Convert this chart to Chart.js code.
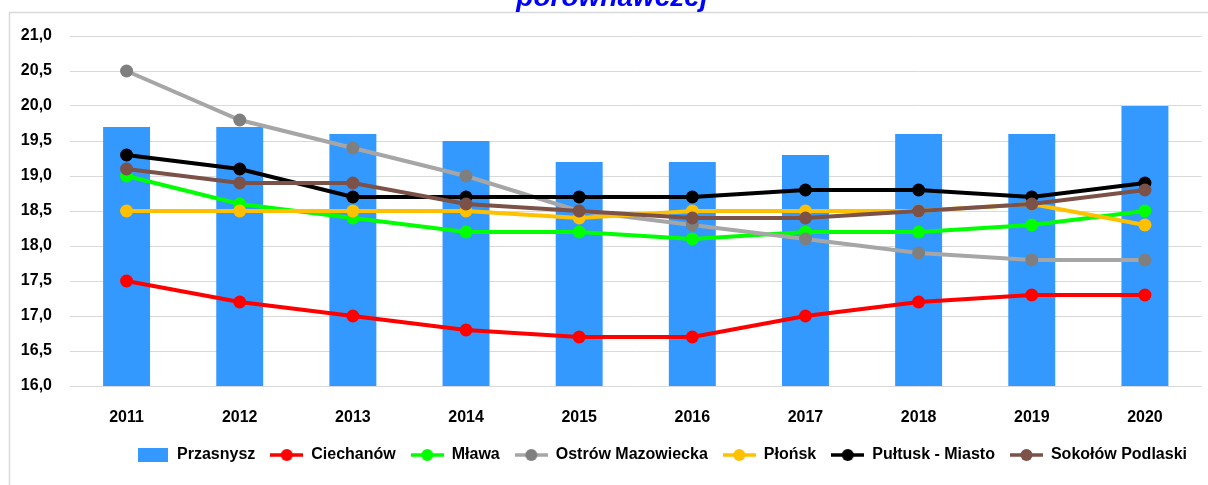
<!DOCTYPE html>
<html>
<head>
<meta charset="utf-8">
<script src="https://cdn.jsdelivr.net/npm/chart.js@4"></script>
<style>
html,body{margin:0;padding:0;background:#fff;}
#wrap{position:absolute;left:0;top:0;width:1208px;height:485px;}
</style>
</head>
<body>
<div id="wrap"><canvas id="c" width="1208" height="485"></canvas></div>
<script>
const years = ['2011','2012','2013','2014','2015','2016','2017','2018','2019','2020'];
const yTicks = [16.0,16.5,17.0,17.5,18.0,18.5,19.0,19.5,20.0,20.5,21.0];
const titleText = 'porównawczej';
const przasnysz = [19.7,19.7,19.6,19.5,19.2,19.2,19.3,19.6,19.6,20.0];
const ciechanow = [17.5,17.2,17.0,16.8,16.7,16.7,17.0,17.2,17.3,17.3];
const mlawa     = [19.0,18.6,18.4,18.2,18.2,18.1,18.2,18.2,18.3,18.5];
const ostrow    = [20.5,19.8,19.4,19.0,18.5,18.3,18.1,17.9,17.8,17.8];
const plonsk    = [18.5,18.5,18.5,18.5,18.4,18.5,18.5,18.5,18.6,18.3];
const pultusk   = [19.3,19.1,18.7,18.7,18.7,18.7,18.8,18.8,18.7,18.9];
const sokolow   = [19.1,18.9,18.9,18.6,18.5,18.4,18.4,18.5,18.6,18.8];

const FONT = "'Liberation Sans', Arial, sans-serif";

function lineIcon(lineColor, dotColor){
  const c = document.createElement('canvas');
  c.width = 33; c.height = 14;
  const x = c.getContext('2d');
  x.strokeStyle = lineColor; x.lineWidth = 3.5;
  x.beginPath(); x.moveTo(0,7); x.lineTo(33,7); x.stroke();
  x.fillStyle = dotColor;
  x.beginPath(); x.arc(16.5,7,6,0,Math.PI*2); x.fill();
  return c;
}
function boxIcon(color){
  const c = document.createElement('canvas');
  c.width = 30; c.height = 14;
  const x = c.getContext('2d');
  x.fillStyle = color; x.fillRect(0,0,30,14);
  return c;
}

function lineDs(label, data, color, pcolor, order){
  return {
    type:'line', label, data, order,
    borderColor: color, backgroundColor: pcolor || color,
    pointBackgroundColor: pcolor || color, pointBorderColor: pcolor || color,
    borderWidth: 4, pointRadius: 6.5, pointHoverRadius: 6.5, pointBorderWidth: 0,
    tension: 0, fill: false,
    _icon: lineIcon(color, pcolor || color)
  };
}

const datasets = [
  {type:'bar', label:'Przasnysz', data: przasnysz, backgroundColor:'#3399FF', order: 10,
   categoryPercentage: 1.0, barPercentage: 0.415, _icon: boxIcon('#3399FF')},
  lineDs('Ciechanów', ciechanow, '#FF0000', null, 6),
  lineDs('Mława', mlawa, '#00FF00', null, 5),
  lineDs('Ostrów Mazowiecka', ostrow, '#A6A6A6', '#7F7F7F', 4),
  lineDs('Płońsk', plonsk, '#FFC000', null, 3),
  lineDs('Pułtusk - Miasto', pultusk, '#000000', null, 2),
  lineDs('Sokołów Podlaski', sokolow, '#7B5148', null, 1)
];

const framePlugin = {
  id:'frame',
  afterLayout(chart){
    if (chart.legend) { chart.legend.left += 60; chart.legend.right += 60; }
  },
  beforeDraw(chart){
    const ctx = chart.ctx;
    ctx.save();
    ctx.fillStyle = '#fff';
    ctx.fillRect(0,0,chart.width,chart.height);
    ctx.strokeStyle = '#D9D9D9'; ctx.lineWidth = 1.5;
    ctx.beginPath();
    ctx.moveTo(9.5, 485); ctx.lineTo(9.5, 12.5); ctx.lineTo(1208, 12.5);
    ctx.stroke();
    ctx.fillStyle = '#0000FF';
    ctx.font = "italic bold 28px " + FONT;
    ctx.textAlign = 'center'; ctx.textBaseline = 'alphabetic';
    ctx.fillText(titleText, 612, 6);
    ctx.restore();
  }
};

new Chart(document.getElementById('c'), {
  data: { labels: years, datasets },
  options: {
    responsive: false, animation: false,
    layout: { padding: { left: 0, right: 5, top: 36, bottom: 12 } },
    plugins: {
      tooltip: { enabled: false },
      title: { display: false },
      legend: {
        position: 'bottom',
        labels: {
          usePointStyle: true, pointStyleWidth: 33, boxHeight: 14,
          padding: 15,
          color: '#000',
          font: { family: FONT, size: 16, weight: 'bold' },
          sort: (a,b) => a.datasetIndex - b.datasetIndex,
          generateLabels(chart){
            const items = Chart.defaults.plugins.legend.labels.generateLabels(chart);
            items.forEach(it => {
              const ds = chart.data.datasets[it.datasetIndex];
              it.pointStyle = ds._icon;
              it.lineWidth = 0;
            });
            return items;
          }
        }
      }
    },
    scales: {
      x: {
        afterFit(scale){ scale.height = 46; },
        grid: { display: false, drawTicks: false },
        border: { display: false },
        ticks: { color:'#000', font: { family: FONT, size: 16, weight: 'bold' }, padding: 22, maxRotation: 0 }
      },
      y: {
        min: 16, max: 21,
        afterFit(scale){ scale.width = 70; },
        afterBuildTicks(scale){ scale.ticks = yTicks.map(v => ({value: v})); },
        grid: { color: '#D9D9D9', lineWidth: 1, drawTicks: false },
        border: { display: false },
        ticks: {
          color:'#000', padding: 18,
          font: { family: FONT, size: 16, weight: 'bold' },
          callback: v => Number(v).toFixed(1).replace('.', ',')
        }
      }
    }
  },
  plugins: [framePlugin]
});
</script>
</body>
</html>
